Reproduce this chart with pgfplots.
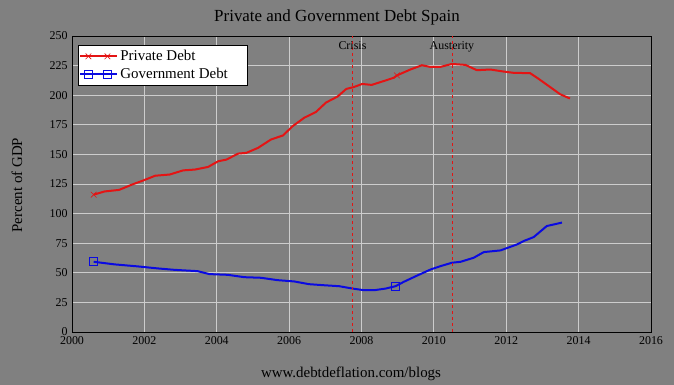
\documentclass[border=0pt]{standalone}
\usepackage{fontspec}
\setmainfont{Liberation Serif}
\usepackage{pgfplots}
\pgfplotsset{compat=1.18}
\definecolor{bg}{RGB}{128,128,128}
\definecolor{gridc}{RGB}{205,205,205}
\definecolor{pred}{RGB}{228,20,20}
\definecolor{gblue}{RGB}{10,10,225}
\begin{document}
\begin{tikzpicture}
\fill[bg] (-72bp,-53bp) rectangle (602bp,332bp);
\begin{axis}[
  at={(0,0)}, anchor=south west,
  scale only axis, width=579bp, height=296bp,
  xmin=2000, xmax=2016, ymin=0, ymax=250,
  xtick={2000,2002,...,2016}, ytick={0,25,...,250},
  /pgf/number format/1000 sep={},
  /pgf/number format/assume math mode=true,
  grid=major, major grid style={gridc, line width=0.8pt},
  axis line style={black, line width=0.9pt},
  major tick length=0pt,
  tick label style={font=\fontsize{12}{12}\selectfont},
  yticklabel style={xshift=-1bp},
  xticklabel style={yshift=-1.5bp},
  legend style={at={(0.0104,0.9696)}, anchor=north west, draw=black, fill=white,
    font=\fontsize{15}{16}\selectfont, inner xsep=1bp, inner ysep=3bp, row sep=2bp, line width=0.8pt},
  legend cell align=left,
]
\addplot[pred, line width=2bp, mark=x, mark size=4bp, mark indices={1,29},
  mark options={line width=0.6pt},
  legend image code/.code={\draw[pred, line width=2bp] (0bp,0bp) -- (37bp,0bp);
    \draw[pred, line width=0.6pt] plot[only marks, mark=x, mark size=4bp] coordinates {(8bp,0bp)};
    \draw[pred, line width=0.6pt] plot[only marks, mark=x, mark size=4bp] coordinates {(27bp,0bp)};}
  ] coordinates {
(2000.6,116) (2000.9,118.7) (2001.3,120) (2001.65,124.4) (2001.97,128) (2002.3,132)
(2002.7,133) (2003.07,136.5) (2003.4,137.2) (2003.76,139.4) (2004.04,144.2) (2004.27,145.6)
(2004.59,150.7) (2004.82,151.3) (2005.14,155.5) (2005.5,162.6) (2005.83,166) (2006.1,173.9)
(2006.42,181) (2006.74,185.8) (2007.02,193.8) (2007.34,198.9) (2007.58,205.3) (2007.78,206.8)
(2008.02,209.5) (2008.28,208.7) (2008.62,212) (2008.89,214.7) (2008.98,216.7) (2009.35,221.7)
(2009.67,225.3) (2009.9,223.9) (2010.18,223.9) (2010.5,226.4) (2010.87,225.6) (2011.19,221.1)
(2011.56,221.7) (2011.92,220) (2012.2,218.9) (2012.66,218.6) (2012.89,213.9) (2013.17,207.8)
(2013.49,200.8) (2013.76,197.2)
};
\addlegendentry{Private Debt}
\addplot[gblue, line width=2bp, mark=square, mark size=4bp, mark indices={1,20},
  mark options={line width=0.6pt},
  legend image code/.code={\draw[gblue, line width=2bp] (0bp,0bp) -- (37bp,0bp);
    \draw[gblue, line width=0.6pt] plot[only marks, mark=square, mark size=4bp] coordinates {(8bp,0bp)};
    \draw[gblue, line width=0.6pt] plot[only marks, mark=square, mark size=4bp] coordinates {(27bp,0bp)};}
  ] coordinates {
(2000.6,59.3) (2001.18,57.1) (2001.82,55.4) (2002.37,53.7) (2002.83,52.5) (2003.47,51.4)
(2003.8,48.9) (2004.3,48.3) (2004.76,46.3) (2005.22,45.8) (2005.68,43.8) (2006.14,42.7)
(2006.55,40.4) (2006.96,39.5) (2007.38,38.7) (2007.75,36.7) (2008.07,35.3) (2008.35,35.3)
(2008.67,36.7) (2008.94,38.7) (2009.17,42.4) (2009.54,47.7) (2009.91,52.8) (2010.18,55.6)
(2010.5,58.5) (2010.74,59.3) (2011.1,62.7) (2011.38,67.5) (2011.84,68.9) (2012.3,74)
(2012.48,76.8) (2012.76,80.2) (2013.12,89.5) (2013.54,92.4)
};
\addlegendentry{Government Debt\rule{17bp}{0pt}}
\addplot[pred, line width=0.8pt, dash pattern=on 3bp off 3bp, forget plot] coordinates {(2007.75,0) (2007.75,250)};
\addplot[pred, line width=0.8pt, dash pattern=on 3bp off 3bp, forget plot] coordinates {(2010.5,0) (2010.5,250)};
\node[font=\fontsize{12}{12}\selectfont, anchor=north] at (axis cs:2007.75,248) {Crisis};
\node[font=\fontsize{12}{12}\selectfont, anchor=north] at (axis cs:2010.5,248) {Austerity};
\end{axis}
\node[font=\fontsize{17}{17}\selectfont] at (265bp,315bp) {Private and Government Debt Spain};
\node[font=\fontsize{15}{15}\selectfont, rotate=90] at (-55bp,147bp) {Percent of GDP};
\node[font=\fontsize{15}{15}\selectfont] at (279bp,-42bp) {www.debtdeflation.com/blogs};
\end{tikzpicture}
\end{document}
